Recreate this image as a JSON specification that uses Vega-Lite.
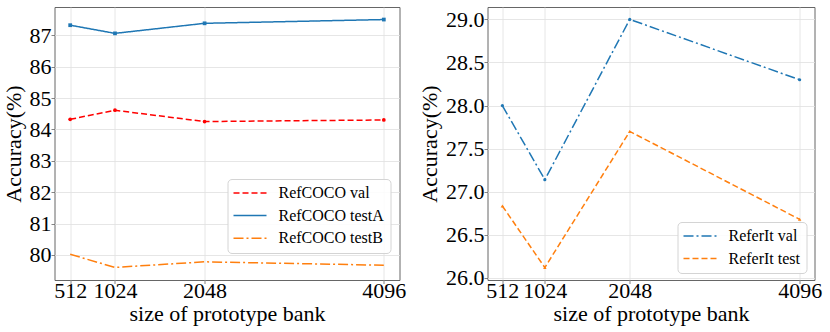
{
  "$schema": "https://vega.github.io/schema/vega-lite/v6.json",
  "padding": {"left": 1.5, "top": 6, "right": 8, "bottom": 4},
  "bounds": "flush",
  "spacing": 88,
  "resolve": {
    "scale": {"color": "independent", "strokeDash": "independent", "x": "independent", "y": "independent"},
    "legend": {"color": "independent", "strokeDash": "independent"}
  },
  "datasets": {
    "left": [
      {"series": "RefCOCO val", "size": 512, "acc": 84.32},
      {"series": "RefCOCO val", "size": 1024, "acc": 84.61},
      {"series": "RefCOCO val", "size": 2048, "acc": 84.25},
      {"series": "RefCOCO val", "size": 4096, "acc": 84.30},
      {"series": "RefCOCO testA", "size": 512, "acc": 87.32},
      {"series": "RefCOCO testA", "size": 1024, "acc": 87.06},
      {"series": "RefCOCO testA", "size": 2048, "acc": 87.38},
      {"series": "RefCOCO testA", "size": 4096, "acc": 87.50},
      {"series": "RefCOCO testB", "size": 512, "acc": 80.02},
      {"series": "RefCOCO testB", "size": 1024, "acc": 79.60},
      {"series": "RefCOCO testB", "size": 2048, "acc": 79.78},
      {"series": "RefCOCO testB", "size": 4096, "acc": 79.67}
    ],
    "right": [
      {"series": "ReferIt val", "size": 512, "acc": 28.0},
      {"series": "ReferIt val", "size": 1024, "acc": 27.14},
      {"series": "ReferIt val", "size": 2048, "acc": 29.0},
      {"series": "ReferIt val", "size": 4096, "acc": 28.3},
      {"series": "ReferIt test", "size": 512, "acc": 26.835},
      {"series": "ReferIt test", "size": 1024, "acc": 26.12},
      {"series": "ReferIt test", "size": 2048, "acc": 27.70},
      {"series": "ReferIt test", "size": 4096, "acc": 26.68}
    ]
  },
  "config": {
    "font": "Liberation Serif",
    "view": {"stroke": "#666", "strokeWidth": 1},
    "axis": {
      "labelFont": "Liberation Serif", "labelFontSize": 22, "labelColor": "#000",
      "titleFont": "Liberation Serif", "titleFontSize": 22, "titleFontWeight": "normal", "titleColor": "#000",
      "gridColor": "#e0e0e0", "gridWidth": 0.8, "domain": false, "labelOverlap": false, "labelFlush": false,
      "tickColor": "#666", "tickSize": 3.5, "tickWidth": 0.8, "titlePadding": 4
    },
    "axisX": {"labelPadding": -3, "titlePadding": 2},
    "axisY": {"labelPadding": 0},
    "legend": {
      "labelFont": "Liberation Serif", "labelFontSize": 16, "labelColor": "#000",
      "symbolType": "M-3,0H3", "symbolSize": 121, "symbolStrokeWidth": 1.5,
      "symbolOffset": 8.5, "labelOffset": 20.5, "padding": 6, "rowPadding": 6.6,
      "fillColor": "rgba(255,255,255,0.85)", "strokeColor": "#d4d4d4", "cornerRadius": 4
    }
  },
  "hconcat": [
    {
      "width": 345, "height": 273,
      "data": {"name": "left"},
      "encoding": {
        "x": {"field": "size", "type": "quantitative", "scale": {"domain": [332.8, 4275.2], "nice": false, "zero": false},
              "axis": {"values": [512, 1024, 2048, 4096], "format": "d", "title": "size of prototype bank"}},
        "y": {"field": "acc", "type": "quantitative", "scale": {"domain": [79.2, 87.9], "nice": false, "zero": false},
              "axis": {"values": [80, 81, 82, 83, 84, 85, 86, 87], "format": "d", "title": "Accuracy(%)"}}
      },
      "layer": [
        {
          "mark": {"type": "line", "strokeWidth": 1.5},
          "encoding": {
            "color": {"field": "series", "type": "nominal",
                      "scale": {"domain": ["RefCOCO val", "RefCOCO testA", "RefCOCO testB"], "range": ["#ff0000", "#1f77b4", "#ff7f0e"]},
                      "legend": {"title": null, "orient": "none", "legendX": 173, "legendY": 172}},
            "strokeDash": {"field": "series", "type": "nominal",
                      "scale": {"domain": ["RefCOCO val", "RefCOCO testA", "RefCOCO testB"], "range": [[6, 3], [1, 0], [10, 3, 2, 3]]},
                      "legend": {"title": null, "orient": "none", "legendX": 173, "legendY": 172}}
          }
        },
        {
          "transform": [{"filter": "datum.series === 'RefCOCO val'"}],
          "mark": {"type": "point", "filled": true, "size": 14, "opacity": 1, "shape": "circle", "color": "#ff0000"}
        },
        {
          "transform": [{"filter": "datum.series === 'RefCOCO testA'"}],
          "mark": {"type": "point", "filled": true, "size": 14, "opacity": 1, "shape": "square", "color": "#1f77b4"}
        }
      ]
    },
    {
      "width": 327, "height": 273,
      "data": {"name": "right"},
      "encoding": {
        "x": {"field": "size", "type": "quantitative", "scale": {"domain": [332.8, 4275.2], "nice": false, "zero": false},
              "axis": {"values": [512, 1024, 2048, 4096], "format": "d", "title": "size of prototype bank"}},
        "y": {"field": "acc", "type": "quantitative", "scale": {"domain": [25.976, 29.144], "nice": false, "zero": false},
              "axis": {"values": [26, 26.5, 27, 27.5, 28, 28.5, 29], "format": ".1f", "title": "Accuracy(%)"}}
      },
      "layer": [
        {
          "mark": {"type": "line", "strokeWidth": 1.5},
          "encoding": {
            "color": {"field": "series", "type": "nominal",
                      "scale": {"domain": ["ReferIt val", "ReferIt test"], "range": ["#1f77b4", "#ff7f0e"]},
                      "legend": {"title": null, "orient": "none", "legendX": 190, "legendY": 215}},
            "strokeDash": {"field": "series", "type": "nominal",
                      "scale": {"domain": ["ReferIt val", "ReferIt test"], "range": [[10, 3, 2, 3], [6, 3]]},
                      "legend": {"title": null, "orient": "none", "legendX": 190, "legendY": 215}}
          }
        },
        {
          "transform": [{"filter": "datum.series === 'ReferIt val'"}],
          "mark": {"type": "point", "filled": true, "size": 10, "opacity": 1, "shape": "circle", "color": "#1f77b4"}
        },
        {
          "transform": [{"filter": "datum.series === 'ReferIt test'"}],
          "mark": {"type": "point", "filled": true, "size": 12, "opacity": 1, "shape": "triangle-up", "color": "#ff7f0e"}
        }
      ]
    }
  ]
}
